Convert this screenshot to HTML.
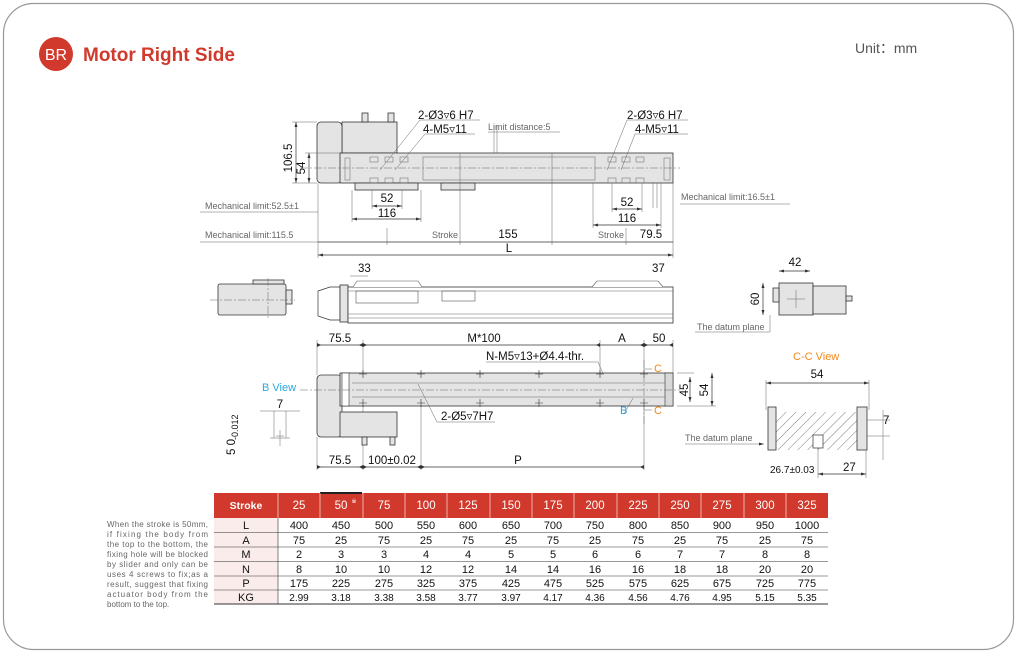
<!DOCTYPE html>
<html><head><meta charset="utf-8"><style>
html,body{margin:0;padding:0;background:#fff;}
svg{display:block;font-family:"Liberation Sans",sans-serif;}
.d{stroke:#333;stroke-width:0.7;fill:none}
.th{stroke:#666;stroke-width:0.5;fill:none}
.cl{stroke:#666;stroke-width:0.5;fill:none;stroke-dasharray:8 2 2 2}
.b{fill:#e4e4e4;stroke:#333;stroke-width:0.8}
.t{font-size:11.5px;fill:#111}
.g{font-size:9px;fill:#666}
</style></head><body>
<svg width="1017" height="654" viewBox="0 0 1017 654">
<defs>
<marker id="a" markerWidth="6" markerHeight="6" refX="5" refY="3" orient="auto-start-reverse" markerUnits="userSpaceOnUse"><path d="M0,1.5 L5,3 L0,4.5z" fill="#333"/></marker>
<pattern id="h" width="7" height="7" patternUnits="userSpaceOnUse" patternTransform="rotate(45)"><line x1="0" y1="0" x2="0" y2="7" stroke="#444" stroke-width="0.7"/></pattern>
</defs>
<rect x="3.5" y="3.5" width="1010" height="646" rx="30" fill="none" stroke="#999" stroke-width="1.2"/>
<circle cx="56" cy="54" r="17" fill="#d0392b"/>
<text x="56" y="60" font-size="16" fill="#fff" text-anchor="middle">BR</text>
<text x="83" y="61" font-size="19" font-weight="bold" fill="#d0392b">Motor Right Side</text>
<text x="855" y="53" font-size="14" fill="#555">Unit：mm</text>

<!-- TOP VIEW -->
<rect x="342" y="122" width="55" height="31" class="b"/>
<rect x="362" y="113" width="6" height="9" class="b"/><rect x="388" y="113" width="6" height="9" class="b"/>
<rect x="317" y="122" width="25" height="61" rx="4" class="b"/>
<rect x="340" y="153" width="333" height="30" class="b"/>
<rect x="423" y="157" width="172" height="23" fill="none" stroke="#777" stroke-width="0.6"/>
<rect x="355" y="183" width="63" height="7" class="b"/><rect x="441" y="183" width="34" height="7" class="b"/>
<line x1="300" y1="168" x2="680" y2="168" class="cl"/>
<line x1="552" y1="153" x2="552" y2="245" class="th"/><line x1="460" y1="153" x2="460" y2="245" class="th"/>
<g class="th"><rect x="370" y="157" width="8" height="5"/><rect x="385" y="157" width="8" height="5"/><rect x="400" y="157" width="8" height="5"/>
<rect x="370" y="178" width="8" height="5"/><rect x="385" y="178" width="8" height="5"/><rect x="400" y="178" width="8" height="5"/>
<rect x="608" y="157" width="8" height="5"/><rect x="622" y="157" width="8" height="5"/><rect x="636" y="157" width="8" height="5"/>
<rect x="608" y="178" width="8" height="5"/><rect x="622" y="178" width="8" height="5"/><rect x="636" y="178" width="8" height="5"/>
<rect x="664" y="158" width="6" height="22"/><rect x="345" y="158" width="5" height="22"/></g>
<g class="th"><line x1="380" y1="170" x2="420" y2="120"/><line x1="395" y1="170" x2="425" y2="134"/><line x1="420" y1="120" x2="480" y2="120"/><line x1="425" y1="134" x2="475" y2="134"/>
<line x1="607" y1="170" x2="627" y2="120"/><line x1="621" y1="170" x2="635" y2="134"/><line x1="627" y1="120" x2="688" y2="120"/><line x1="635" y1="134" x2="688" y2="134"/>
<line x1="488" y1="132" x2="560" y2="132"/><line x1="494" y1="125" x2="494" y2="153"/><line x1="497" y1="125" x2="497" y2="153"/></g>
<text x="418" y="119" class="t">2-Ø3▿6 H7</text><text x="423" y="133" class="t">4-M5▿11</text>
<text x="488" y="130" class="g">Limit distance:5</text>
<text x="627" y="119" class="t">2-Ø3▿6 H7</text><text x="635" y="133" class="t">4-M5▿11</text>
<line x1="296" y1="122" x2="296" y2="183" class="d" marker-start="url(#a)" marker-end="url(#a)"/>
<line x1="309" y1="153" x2="309" y2="183" class="d" marker-start="url(#a)" marker-end="url(#a)"/>
<line x1="292" y1="122" x2="317" y2="122" class="th"/><line x1="305" y1="153" x2="340" y2="153" class="th"/><line x1="292" y1="183" x2="317" y2="183" class="th"/>
<text transform="translate(292,158) rotate(-90)" class="t" text-anchor="middle">106.5</text>
<text transform="translate(305,168) rotate(-90)" class="t" text-anchor="middle">54</text>
<g class="th"><line x1="318" y1="183" x2="318" y2="258"/><line x1="673" y1="183" x2="673" y2="258"/><line x1="352" y1="190" x2="352" y2="222"/><line x1="421" y1="190" x2="421" y2="222"/>
<line x1="372" y1="190" x2="372" y2="209"/><line x1="402" y1="190" x2="402" y2="209"/><line x1="387" y1="228" x2="387" y2="245"/>
<line x1="593" y1="183" x2="593" y2="228"/><line x1="661" y1="183" x2="661" y2="228"/><line x1="612" y1="183" x2="612" y2="212"/><line x1="642" y1="183" x2="642" y2="212"/><line x1="626" y1="228" x2="626" y2="245"/><line x1="653" y1="183" x2="653" y2="208"/><line x1="657" y1="183" x2="657" y2="208"/>
<line x1="200" y1="212" x2="318" y2="212"/><line x1="200" y1="242" x2="318" y2="242"/><line x1="680" y1="204" x2="790" y2="204"/></g>
<line x1="372" y1="206" x2="402" y2="206" class="d" marker-start="url(#a)" marker-end="url(#a)"/>
<line x1="352" y1="219" x2="421" y2="219" class="d" marker-start="url(#a)" marker-end="url(#a)"/>
<line x1="612" y1="209" x2="642" y2="209" class="d" marker-start="url(#a)" marker-end="url(#a)"/>
<line x1="593" y1="225" x2="661" y2="225" class="d" marker-start="url(#a)" marker-end="url(#a)"/>
<line x1="318" y1="242" x2="673" y2="242" class="d"/>
<line x1="318" y1="255" x2="673" y2="255" class="d" marker-start="url(#a)" marker-end="url(#a)"/>
<text x="387" y="202" class="t" text-anchor="middle">52</text><text x="387" y="217" class="t" text-anchor="middle">116</text>
<text x="627" y="206" class="t" text-anchor="middle">52</text><text x="627" y="222" class="t" text-anchor="middle">116</text>
<text x="205" y="209" class="g">Mechanical limit:52.5±1</text>
<text x="681" y="200" class="g">Mechanical limit:16.5±1</text>
<text x="205" y="238" class="g">Mechanical limit:115.5</text>
<text x="432" y="238" class="g">Stroke</text><text x="508" y="238" class="t" text-anchor="middle">155</text>
<text x="598" y="238" class="g">Stroke</text><text x="651" y="238" class="t" text-anchor="middle">79.5</text>
<text x="509" y="252" class="t" text-anchor="middle">L</text>

<!-- SIDE VIEW -->
<text x="358" y="272" class="t">33</text><text x="652" y="272" class="t">37</text>
<line x1="350" y1="276" x2="368" y2="276" class="th"/>
<rect x="218" y="284" width="68" height="31" rx="2" class="b"/><rect x="253" y="280" width="31" height="4" class="b"/><rect x="286" y="290" width="6" height="14" class="b"/>
<line x1="210" y1="300" x2="295" y2="300" class="cl"/><line x1="268" y1="278" x2="268" y2="320" class="cl"/>
<path d="M318,291 L330,287 L340,287 L340,320 L330,320 L318,316z" fill="#fff" stroke="#333" stroke-width="0.7"/>
<rect x="340" y="285" width="8" height="37" class="b"/>
<rect x="348" y="287" width="325" height="36" fill="#fff" stroke="#333" stroke-width="0.8"/>
<line x1="348" y1="314" x2="673" y2="314" class="th"/><line x1="348" y1="318" x2="673" y2="318" class="th"/><line x1="348" y1="291" x2="673" y2="291" class="th"/>
<path d="M353,287 L357,281 L418,281 L422,287" fill="#fff" stroke="#555" stroke-width="0.6"/>
<path d="M592,287 L597,281 L658,281 L663,287" fill="#fff" stroke="#555" stroke-width="0.6"/>
<rect x="356" y="291" width="62" height="12" fill="none" stroke="#555" stroke-width="0.6"/>
<rect x="442" y="291" width="33" height="10" fill="none" stroke="#555" stroke-width="0.6"/>
<text x="795" y="266" class="t" text-anchor="middle">42</text>
<line x1="779" y1="271" x2="810" y2="271" class="d" marker-start="url(#a)" marker-end="url(#a)"/>
<line x1="763" y1="283" x2="763" y2="315" class="d" marker-start="url(#a)" marker-end="url(#a)"/>
<text transform="translate(759,299) rotate(-90)" class="t" text-anchor="middle">60</text>
<rect x="779" y="283" width="34" height="32" class="b"/><rect x="773" y="288" width="6" height="14" class="b"/>
<rect x="813" y="286" width="33" height="28" class="b"/><rect x="846" y="296" width="6" height="5" class="b"/>
<line x1="796" y1="290" x2="796" y2="308" class="th"/><line x1="787" y1="299" x2="805" y2="299" class="th"/>
<line x1="770" y1="315" x2="770" y2="332" class="th"/><line x1="695" y1="332" x2="770" y2="332" class="th"/>
<text x="697" y="330" class="g">The datum plane</text>

<!-- BOTTOM VIEW -->
<g class="th"><line x1="317" y1="340" x2="317" y2="375"/><line x1="363" y1="340" x2="363" y2="470"/><line x1="600" y1="340" x2="600" y2="375"/><line x1="644" y1="340" x2="644" y2="470"/><line x1="673" y1="340" x2="673" y2="373"/>
<line x1="317" y1="437" x2="317" y2="470"/><line x1="421" y1="403" x2="421" y2="470"/></g>
<line x1="317" y1="345" x2="673" y2="345" class="d"/>
<g fill="#333"><path d="M363,343 l-4,2 l4,2z"/><path d="M363,343 l4,2 l-4,2z"/><path d="M600,343 l-4,2 l4,2z"/><path d="M644,343 l4,2 l-4,2z"/><path d="M644,343 l-4,2 l4,2z"/><path d="M673,343 l-4,2 l4,2z"/><path d="M317,343 l4,2 l-4,2z"/></g>
<text x="340" y="342" class="t" text-anchor="middle">75.5</text><text x="484" y="342" class="t" text-anchor="middle">M*100</text>
<text x="622" y="342" class="t" text-anchor="middle">A</text><text x="659" y="342" class="t" text-anchor="middle">50</text>
<text x="486" y="360" class="t">N-M5▿13+Ø4.4-thr.</text>
<line x1="486" y1="362" x2="598" y2="362" class="th"/><line x1="598" y1="362" x2="608" y2="385" class="th"/>
<rect x="317" y="375" width="25" height="62" rx="4" class="b"/>
<rect x="340" y="373" width="333" height="33" class="b"/>
<rect x="342" y="373" width="7" height="33" fill="#fff" stroke="#333" stroke-width="0.6"/>
<rect x="665" y="373" width="8" height="33" fill="#d8d8d8" stroke="#333" stroke-width="0.6"/>
<line x1="352" y1="383" x2="665" y2="383" class="th"/><line x1="352" y1="397" x2="665" y2="397" class="th"/>
<rect x="340" y="412" width="57" height="25" class="b"/>
<rect x="362" y="437" width="5" height="8" class="b"/><rect x="390" y="437" width="5" height="8" class="b"/>
<line x1="300" y1="390" x2="680" y2="390" class="cl"/>
<g stroke="#333" stroke-width="0.6"><path d="M359,374h8M363,370v8M417,374h8M421,370v8M476,374h8M480,370v8M535,374h8M539,370v8M596,374h8M600,370v8M640,374h8M644,370v8
M359,403h8M363,399v8M417,403h8M421,399v8M476,403h8M480,399v8M535,403h8M539,399v8M596,403h8M600,399v8M640,403h8M644,399v8"/></g>
<line x1="644" y1="360" x2="644" y2="425" class="cl"/>
<text x="654" y="372" font-size="11" fill="#f08a1c">C</text><text x="654" y="414" font-size="11" fill="#f08a1c">C</text>
<line x1="644" y1="369" x2="652" y2="369" class="th"/><line x1="644" y1="410" x2="652" y2="410" class="th"/>
<text x="620" y="414" font-size="11" fill="#2aa6e0">B</text><line x1="624" y1="414" x2="633" y2="398" class="th"/>
<line x1="418" y1="384" x2="437" y2="422" class="th"/><line x1="437" y1="422" x2="495" y2="422" class="th"/>
<text x="441" y="420" class="t">2-Ø5▿7H7</text>
<line x1="677" y1="373" x2="694" y2="373" class="th"/><line x1="677" y1="406" x2="716" y2="406" class="th"/>
<line x1="690" y1="377" x2="690" y2="402" class="d" marker-start="url(#a)" marker-end="url(#a)"/>
<line x1="712" y1="373" x2="712" y2="406" class="d" marker-start="url(#a)" marker-end="url(#a)"/>
<text transform="translate(688,390) rotate(-90)" class="t" text-anchor="middle">45</text>
<text transform="translate(708,390) rotate(-90)" class="t" text-anchor="middle">54</text>
<line x1="317" y1="467" x2="644" y2="467" class="d"/>
<g fill="#333"><path d="M317,465 l4,2 l-4,2z"/><path d="M363,465 l-4,2 l4,2z"/><path d="M363,465 l4,2 l-4,2z"/><path d="M421,465 l-4,2 l4,2z"/><path d="M421,465 l4,2 l-4,2z"/><path d="M644,465 l-4,2 l4,2z"/></g>
<text x="340" y="464" class="t" text-anchor="middle">75.5</text><text x="392" y="464" class="t" text-anchor="middle">100±0.02</text>
<text x="518" y="464" class="t" text-anchor="middle">P</text>
<text x="262" y="391" font-size="11" fill="#2aa6e0">B View</text>
<text x="280" y="408" class="t" text-anchor="middle">7</text>
<g class="th"><line x1="260" y1="411" x2="300" y2="411"/><line x1="274" y1="411" x2="274" y2="438"/><line x1="286" y1="411" x2="286" y2="438"/><line x1="270" y1="438" x2="290" y2="438"/><line x1="280" y1="430" x2="280" y2="446"/><line x1="276" y1="436" x2="284" y2="436"/></g>
<text transform="translate(235,455) rotate(-90)" class="t">5 0</text>
<text transform="translate(238,440) rotate(-90)" font-size="9" fill="#111">-0.012</text>
<!-- C-C View -->
<text x="793" y="360" font-size="11" fill="#f08a1c">C-C View</text>
<text x="817" y="378" class="t" text-anchor="middle">54</text>
<line x1="766" y1="383" x2="869" y2="383" class="d" marker-start="url(#a)" marker-end="url(#a)"/>
<line x1="766" y1="380" x2="766" y2="410" class="th"/><line x1="869" y1="380" x2="869" y2="410" class="th"/>
<rect x="776" y="412" width="81" height="38" fill="url(#h)"/>
<rect x="813" y="435" width="10" height="13" fill="#fff" stroke="#333" stroke-width="0.7"/>
<rect x="768" y="407" width="8" height="43" fill="#e4e4e4" stroke="#333" stroke-width="0.8"/>
<rect x="857" y="407" width="10" height="43" fill="#e4e4e4" stroke="#333" stroke-width="0.8"/>
<line x1="867" y1="420" x2="890" y2="420" class="th"/><line x1="867" y1="436" x2="890" y2="436" class="th"/>
<line x1="883" y1="410" x2="883" y2="460" class="th"/>
<text x="883" y="424" class="t">7</text>
<text x="685" y="441" class="g">The datum plane</text><line x1="685" y1="444" x2="764" y2="444" class="th" marker-end="url(#a)"/>
<line x1="818" y1="448" x2="818" y2="478" class="th"/><line x1="866" y1="450" x2="866" y2="478" class="th"/>
<line x1="818" y1="474" x2="866" y2="474" class="d" marker-start="url(#a)" marker-end="url(#a)"/>
<text x="770" y="473" font-size="10" fill="#111">26.7±0.03</text><text x="843" y="471" class="t">27</text>

<!-- TABLE -->
<rect x="214" y="493" width="614" height="25" fill="#d0392b"/>
<rect x="320" y="492" width="42" height="2" fill="#222"/>
<rect x="214" y="518" width="64" height="86" fill="#fbecec"/>
<g font-size="11.5" fill="#fff" text-anchor="middle">
<text x="246" y="509" font-weight="bold" font-size="10.5">Stroke</text>
<text x="299" y="509">25</text><text x="341" y="509">50</text><text x="354" y="503" font-size="6">※</text><text x="384" y="509">75</text><text x="426" y="509">100</text><text x="468" y="509">125</text><text x="511" y="509">150</text><text x="553" y="509">175</text><text x="595" y="509">200</text><text x="638" y="509">225</text><text x="680" y="509">250</text><text x="722" y="509">275</text><text x="765" y="509">300</text><text x="807" y="509">325</text>
</g>
<g stroke="#fff" stroke-width="0.6"><line x1="278" y1="493" x2="278" y2="518"/><line x1="320" y1="493" x2="320" y2="518"/><line x1="363" y1="493" x2="363" y2="518"/><line x1="405" y1="493" x2="405" y2="518"/><line x1="447" y1="493" x2="447" y2="518"/><line x1="490" y1="493" x2="490" y2="518"/><line x1="532" y1="493" x2="532" y2="518"/><line x1="574" y1="493" x2="574" y2="518"/><line x1="617" y1="493" x2="617" y2="518"/><line x1="659" y1="493" x2="659" y2="518"/><line x1="701" y1="493" x2="701" y2="518"/><line x1="744" y1="493" x2="744" y2="518"/><line x1="786" y1="493" x2="786" y2="518"/></g>
<g stroke="#333" stroke-width="0.6"><line x1="214" y1="532.5" x2="828" y2="532.5"/><line x1="214" y1="547" x2="828" y2="547"/><line x1="214" y1="561.5" x2="828" y2="561.5"/><line x1="214" y1="576" x2="828" y2="576"/><line x1="214" y1="590" x2="828" y2="590"/><line x1="214" y1="604" x2="828" y2="604" stroke-width="1"/><line x1="278" y1="518" x2="278" y2="604"/></g>
<g font-size="11" fill="#111" text-anchor="middle">
<text x="246" y="529">L</text><text x="246" y="544">A</text><text x="246" y="558">M</text><text x="246" y="573">N</text><text x="246" y="587">P</text><text x="246" y="601">KG</text>
<text y="529"><tspan x="299">400</tspan><tspan x="341">450</tspan><tspan x="384">500</tspan><tspan x="426">550</tspan><tspan x="468">600</tspan><tspan x="511">650</tspan><tspan x="553">700</tspan><tspan x="595">750</tspan><tspan x="638">800</tspan><tspan x="680">850</tspan><tspan x="722">900</tspan><tspan x="765">950</tspan><tspan x="807">1000</tspan></text>
<text y="544"><tspan x="299">75</tspan><tspan x="341">25</tspan><tspan x="384">75</tspan><tspan x="426">25</tspan><tspan x="468">75</tspan><tspan x="511">25</tspan><tspan x="553">75</tspan><tspan x="595">25</tspan><tspan x="638">75</tspan><tspan x="680">25</tspan><tspan x="722">75</tspan><tspan x="765">25</tspan><tspan x="807">75</tspan></text>
<text y="558"><tspan x="299">2</tspan><tspan x="341">3</tspan><tspan x="384">3</tspan><tspan x="426">4</tspan><tspan x="468">4</tspan><tspan x="511">5</tspan><tspan x="553">5</tspan><tspan x="595">6</tspan><tspan x="638">6</tspan><tspan x="680">7</tspan><tspan x="722">7</tspan><tspan x="765">8</tspan><tspan x="807">8</tspan></text>
<text y="573"><tspan x="299">8</tspan><tspan x="341">10</tspan><tspan x="384">10</tspan><tspan x="426">12</tspan><tspan x="468">12</tspan><tspan x="511">14</tspan><tspan x="553">14</tspan><tspan x="595">16</tspan><tspan x="638">16</tspan><tspan x="680">18</tspan><tspan x="722">18</tspan><tspan x="765">20</tspan><tspan x="807">20</tspan></text>
<text y="587"><tspan x="299">175</tspan><tspan x="341">225</tspan><tspan x="384">275</tspan><tspan x="426">325</tspan><tspan x="468">375</tspan><tspan x="511">425</tspan><tspan x="553">475</tspan><tspan x="595">525</tspan><tspan x="638">575</tspan><tspan x="680">625</tspan><tspan x="722">675</tspan><tspan x="765">725</tspan><tspan x="807">775</tspan></text>
<text y="601" font-size="10"><tspan x="299">2.99</tspan><tspan x="341">3.18</tspan><tspan x="384">3.38</tspan><tspan x="426">3.58</tspan><tspan x="468">3.77</tspan><tspan x="511">3.97</tspan><tspan x="553">4.17</tspan><tspan x="595">4.36</tspan><tspan x="638">4.56</tspan><tspan x="680">4.76</tspan><tspan x="722">4.95</tspan><tspan x="765">5.15</tspan><tspan x="807">5.35</tspan></text>
</g>
<g font-size="8" fill="#666">
<text x="107" y="527" textLength="101" lengthAdjust="spacing">When the stroke is 50mm,</text>
<text x="107" y="537" textLength="101" lengthAdjust="spacing">if fixing the body from</text>
<text x="107" y="547" textLength="101" lengthAdjust="spacing">the top to the bottom, the</text>
<text x="107" y="557" textLength="101" lengthAdjust="spacing">fixing hole will be blocked</text>
<text x="107" y="567" textLength="101" lengthAdjust="spacing">by slider and only can be</text>
<text x="107" y="577" textLength="101" lengthAdjust="spacing">uses 4 screws to fix;as a</text>
<text x="107" y="587" textLength="101" lengthAdjust="spacing">result, suggest that fixing</text>
<text x="107" y="597" textLength="101" lengthAdjust="spacing">actuator body from the</text>
<text x="107" y="607">bottom to the top.</text>
</g>
</svg>
</body></html>
